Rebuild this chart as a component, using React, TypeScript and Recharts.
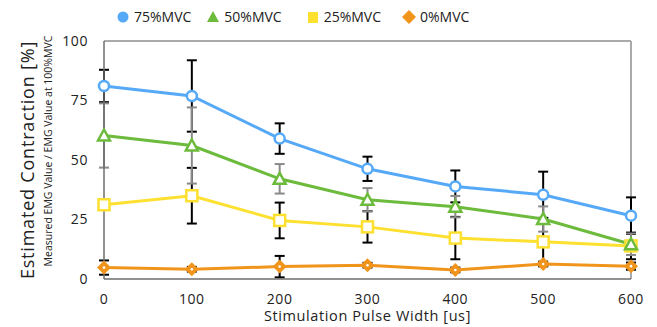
import React from 'react';
import {
  ComposedChart, Line, XAxis, YAxis, ErrorBar, ReferenceLine, Label
} from 'recharts';

const pulseWidth = [0, 100, 200, 300, 400, 500, 600];
const mvc75 = [81.1, 76.9, 59.0, 46.3, 38.9, 35.4, 26.6];
const mvc75Err = [6.8, 15, 6.4, 5.1, 6.7, 9.7, 7.7];
const mvc50 = [60.3, 56.1, 42.1, 33.3, 30.4, 25.2, 14.6];
const mvc50Err = [13.5, 16, 6.2, 4.9, 4.5, 5.3, 4.5];
const mvc25 = [31.2, 35.0, 24.6, 21.9, 17.2, 15.6, 13.9];
const mvc25Err = [2, 11.7, 7.5, 6.6, 8.9, 10, 5.6];
const mvc0 = [4.8, 4.1, 5.2, 5.8, 3.8, 6.3, 5.4];
const mvc0Err = [3, 1, 4.5, 1, 1, 1, 1.5];
const yTicks = [0, 25, 50, 75, 100];

const FONT = '"Open Sans", sans-serif';
const BLUE = '#55a9f7';
const GREEN = '#6cbb3c';
const YELLOW = '#fde030';
const ORANGE = '#f0941c';

const data = pulseWidth.map((x, i) => ({
  x,
  m75: mvc75[i], e75: mvc75Err[i],
  m50: mvc50[i], e50: mvc50Err[i],
  m25: mvc25[i], e25: mvc25Err[i],
  m0: mvc0[i], e0: mvc0Err[i],
}));

const CircleDot = (p: any) => (
  <circle key={`c${p.index}`} cx={p.cx} cy={p.cy} r={5} fill="#fff" stroke={BLUE} strokeWidth={2.5} />
);
const TriDot = (p: any) => (
  <path key={`t${p.index}`} d={`M${p.cx},${p.cy - 6} L${p.cx + 6},${p.cy + 5} L${p.cx - 6},${p.cy + 5} Z`}
    fill="#fff" stroke={GREEN} strokeWidth={2.5} />
);
const SquareDot = (p: any) => (
  <rect key={`s${p.index}`} x={p.cx - 5.5} y={p.cy - 5.5} width={11} height={11} fill="#fff" stroke={YELLOW} strokeWidth={2.5} />
);
const DiamondDot = (p: any) => (
  <g key={`d${p.index}`}>
    <path d={`M${p.cx},${p.cy - 7} L${p.cx + 7},${p.cy} L${p.cx},${p.cy + 7} L${p.cx - 7},${p.cy} Z`} fill={ORANGE} />
    <circle cx={p.cx} cy={p.cy} r={1.3} fill="#fff" />
  </g>
);

const legendItems = [
  { name: '75%MVC', color: BLUE, shape: 'circle', gap: 0 },
  { name: '50%MVC', color: GREEN, shape: 'triangle', gap: 15 },
  { name: '25%MVC', color: YELLOW, shape: 'square', gap: 24 },
  { name: '0%MVC', color: ORANGE, shape: 'diamond', gap: 21 },
];

const LegendIcon = ({ shape, color }: { shape: string; color: string }) => (
  <svg width={14} height={14} style={{ marginRight: 4 }}>
    {shape === 'circle' && <circle cx={7} cy={7} r={5.5} fill={color} />}
    {shape === 'triangle' && <path d="M7,1 L13,12 L1,12 Z" fill={color} />}
    {shape === 'square' && <rect x={2} y={2} width={10} height={11} fill={color} />}
    {shape === 'diamond' && <path d="M7,0 L14,7 L7,14 L0,7 Z" fill={color} />}
  </svg>
);

const ChartLegend = () => (
  <div style={{
    position: 'absolute', left: 116, top: 8, display: 'flex', alignItems: 'center',
    fontFamily: FONT, fontSize: 14, color: '#222', letterSpacing: 0, lineHeight: '18px',
  }}>
    {legendItems.map((it) => (
      <div key={it.name} style={{ display: 'flex', alignItems: 'center', marginLeft: it.gap }}>
        <LegendIcon shape={it.shape} color={it.color} />
        <span>{it.name}</span>
      </div>
    ))}
  </div>
);

const YLabels = ({ viewBox }: any) => {
  const cy = viewBox.y + viewBox.height / 2;
  return (
    <g fontFamily={FONT} fill="#222">
      <text x={27} y={cy} transform={`rotate(-90 27 ${cy})`} textAnchor="middle" dominantBaseline="central"
        fontSize={18} letterSpacing={0.8}>
        Estimated Contraction [%]
      </text>
      <text x={48} y={cy - 9} transform={`rotate(-90 48 ${cy - 9})`} textAnchor="middle" dominantBaseline="central"
        fontSize={10.5}>
        Measured EMG Value / EMG Value at 100%MVC
      </text>
    </g>
  );
};

export default function App() {
  return (
    <div style={{ position: 'absolute', left: 0, top: 0, width: 657, height: 327, background: '#fff' }}>
      <ComposedChart width={657} height={327} data={data} margin={{ top: 41, right: 26, left: 0, bottom: 0 }}>
        <XAxis
          dataKey="x" type="number" domain={[0, 600]} ticks={pulseWidth}
          height={48} tickLine={false} tickMargin={9}
          axisLine={{ stroke: '#6e6e6e', strokeWidth: 1.5 }}
          tick={{ fill: '#222', fontSize: 14, fontFamily: FONT, letterSpacing: 0.6 }}
        >
          <Label value="Stimulation Pulse Width [us]" position="insideBottom" offset={6}
            style={{ fontFamily: FONT, fontSize: 14.5, fill: '#222', letterSpacing: 0.6 }} />
        </XAxis>
        <YAxis
          type="number" domain={[0, 100]} ticks={yTicks} width={104}
          tickLine={false} tickMargin={10}
          axisLine={{ stroke: '#6e6e6e', strokeWidth: 1.5 }}
          tick={{ fill: '#222', fontSize: 14, fontFamily: FONT, letterSpacing: 0.6 }}
        >
          <Label content={<YLabels />} />
        </YAxis>
        <ReferenceLine y={100} stroke="#aaaaaa" strokeWidth={2} />
        <ReferenceLine x={600} stroke="#aaaaaa" strokeWidth={2} />

        {/* error bars drawn first so the lines sit on top */}
        <Line dataKey="m75" stroke="none" dot={false} activeDot={false} legendType="none" isAnimationActive={false}>
          <ErrorBar dataKey="e75" width={5} stroke="#000" strokeWidth={2} direction="y" />
        </Line>
        <Line dataKey="m25" stroke="none" dot={false} activeDot={false} legendType="none" isAnimationActive={false}>
          <ErrorBar dataKey="e25" width={5} stroke="#000" strokeWidth={2} direction="y" />
        </Line>
        <Line dataKey="m0" stroke="none" dot={false} activeDot={false} legendType="none" isAnimationActive={false}>
          <ErrorBar dataKey="e0" width={5} stroke="#000" strokeWidth={2} direction="y" />
        </Line>
        <Line dataKey="m50" stroke="none" dot={false} activeDot={false} legendType="none" isAnimationActive={false}>
          <ErrorBar dataKey="e50" width={5} stroke="#8a8a8a" strokeWidth={2} direction="y" />
        </Line>

        <Line dataKey="m0" stroke={ORANGE} strokeWidth={3} dot={DiamondDot} activeDot={false} isAnimationActive={false} />
        <Line dataKey="m25" stroke={YELLOW} strokeWidth={3} dot={SquareDot} activeDot={false} isAnimationActive={false} />
        <Line dataKey="m50" stroke={GREEN} strokeWidth={3} dot={TriDot} activeDot={false} isAnimationActive={false} />
        <Line dataKey="m75" stroke={BLUE} strokeWidth={3} dot={CircleDot} activeDot={false} isAnimationActive={false} />
      </ComposedChart>
      <ChartLegend />
    </div>
  );
}
